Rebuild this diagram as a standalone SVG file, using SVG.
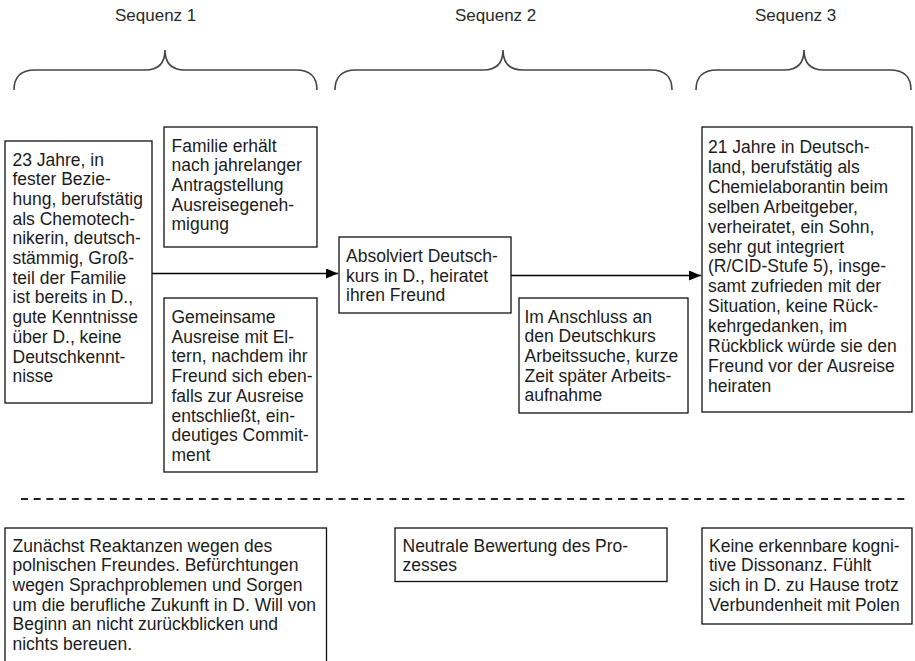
<svg xmlns="http://www.w3.org/2000/svg" width="915" height="661" viewBox="0 0 915 661">
  <style>
    .box { fill: #ffffff; stroke: #111111; stroke-width: 1.3; }
    .txt { font-family: "Liberation Sans", Arial, sans-serif; font-size: 17.5px; fill: #1c1c1c; }
    .head { font-family: "Liberation Sans", Arial, sans-serif; font-size: 17px; fill: #2a2a2a; }
    .brace { fill: none; stroke: #444444; stroke-width: 1.6; }
    .conn { fill: none; stroke: #000000; stroke-width: 1.5; }
    .sep { fill: none; stroke: #222222; stroke-width: 2; stroke-dasharray: 7 5.7; }
  </style>
  <defs>
    <marker id="arrow" viewBox="0 0 12 10" refX="12" refY="5" markerWidth="12" markerHeight="10" markerUnits="userSpaceOnUse" orient="auto">
      <path d="M0,0 L12,5 L0,10 Z" fill="#000000"/>
    </marker>
  </defs>
  <rect width="915" height="661" fill="#ffffff"/>

  <!-- sequence headings with braces -->
  <g id="seq1">
    <text class="head" x="115" y="21">Sequenz 1</text>
    <path class="brace" d="M14,90 Q14,70 35,70 L145,70 Q165,70 165,50 Q165,70 185,70 L296,70 Q317,70 317,90"/>
  </g>
  <g id="seq2">
    <text class="head" x="455" y="21">Sequenz 2</text>
    <path class="brace" d="M335,90 Q335,70 356,70 L483,70 Q503,70 503,50 Q503,70 523,70 L651,70 Q672,70 672,90"/>
  </g>
  <g id="seq3">
    <text class="head" x="755" y="21">Sequenz 3</text>
    <path class="brace" d="M696,90 Q696,70 717,70 L784,70 Q804,70 804,50 Q804,70 824,70 L890,70 Q911,70 911,90"/>
  </g>

  <!-- connectors -->
  <g id="connectors">
    <line class="conn" x1="152" y1="273.5" x2="338" y2="273.5" marker-end="url(#arrow)"/>
    <line class="conn" x1="511" y1="275.5" x2="701" y2="275.5" marker-end="url(#arrow)"/>
    <line class="sep" x1="21" y1="499" x2="906" y2="499"/>
  </g>

  <!-- sequence 1 -->
  <g id="start">
    <rect class="box" x="5" y="141" width="147" height="262"/>
    <text class="txt">
      <tspan x="12.5" y="165.5">23 Jahre, in</tspan>
      <tspan x="12.5" y="185.2">fester Bezie-</tspan>
      <tspan x="12.5" y="204.9">hung, berufstätig</tspan>
      <tspan x="12.5" y="224.6">als Chemotech-</tspan>
      <tspan x="12.5" y="244.3">nikerin, deutsch-</tspan>
      <tspan x="12.5" y="264">stämmig, Groß-</tspan>
      <tspan x="12.5" y="283.7">teil der Familie</tspan>
      <tspan x="12.5" y="303.4">ist bereits in D.,</tspan>
      <tspan x="12.5" y="323.1">gute Kenntnisse</tspan>
      <tspan x="12.5" y="342.8">über D., keine</tspan>
      <tspan x="12.5" y="362.5">Deutschkennt-</tspan>
      <tspan x="12.5" y="382.2">nisse</tspan>
    </text>
  </g>

  <g id="permit">
    <rect class="box" x="164" y="127" width="153" height="120"/>
    <text class="txt">
      <tspan x="171.5" y="151.5">Familie erhält</tspan>
      <tspan x="171.5" y="171.2">nach jahrelanger</tspan>
      <tspan x="171.5" y="190.9">Antragstellung</tspan>
      <tspan x="171.5" y="210.6">Ausreisegeneh-</tspan>
      <tspan x="171.5" y="230.3">migung</tspan>
    </text>
  </g>

  <g id="departure">
    <rect class="box" x="164" y="298" width="153" height="174"/>
    <text class="txt">
      <tspan x="171.5" y="323">Gemeinsame</tspan>
      <tspan x="171.5" y="342.7">Ausreise mit El-</tspan>
      <tspan x="171.5" y="362.4">tern, nachdem ihr</tspan>
      <tspan x="171.5" y="382.1">Freund sich eben-</tspan>
      <tspan x="171.5" y="401.8">falls zur Ausreise</tspan>
      <tspan x="171.5" y="421.5">entschließt, ein-</tspan>
      <tspan x="171.5" y="441.2">deutiges Commit-</tspan>
      <tspan x="171.5" y="460.9">ment</tspan>
    </text>
  </g>

  <!-- sequence 2 -->
  <g id="course">
    <rect class="box" x="339" y="237" width="172" height="76"/>
    <text class="txt">
      <tspan x="346" y="262">Absolviert Deutsch-</tspan>
      <tspan x="346" y="281.7">kurs in D., heiratet</tspan>
      <tspan x="346" y="301.4">ihren Freund</tspan>
    </text>
  </g>

  <g id="work">
    <rect class="box" x="519" y="298" width="169" height="115"/>
    <text class="txt">
      <tspan x="524.5" y="322.5">Im Anschluss an</tspan>
      <tspan x="524.5" y="342.2">den Deutschkurs</tspan>
      <tspan x="524.5" y="361.9">Arbeitssuche, kurze</tspan>
      <tspan x="524.5" y="381.6">Zeit später Arbeits-</tspan>
      <tspan x="524.5" y="401.3">aufnahme</tspan>
    </text>
  </g>

  <!-- sequence 3 -->
  <g id="today">
    <rect class="box" x="702" y="127" width="210" height="285"/>
    <text class="txt">
      <tspan x="708" y="153">21 Jahre in Deutsch-</tspan>
      <tspan x="708" y="172.9">land, berufstätig als</tspan>
      <tspan x="708" y="192.8">Chemielaborantin beim</tspan>
      <tspan x="708" y="212.7">selben Arbeitgeber,</tspan>
      <tspan x="708" y="232.6">verheiratet, ein Sohn,</tspan>
      <tspan x="708" y="252.5">sehr gut integriert</tspan>
      <tspan x="708" y="272.4">(R/CID-Stufe 5), insge-</tspan>
      <tspan x="708" y="292.3">samt zufrieden mit der</tspan>
      <tspan x="708" y="312.2">Situation, keine Rück-</tspan>
      <tspan x="708" y="332.1">kehrgedanken, im</tspan>
      <tspan x="708" y="352">Rückblick würde sie den</tspan>
      <tspan x="708" y="371.9">Freund vor der Ausreise</tspan>
      <tspan x="708" y="391.8">heiraten</tspan>
    </text>
  </g>

  <!-- evaluations below the separator -->
  <g id="eval1">
    <rect class="box" x="5" y="528" width="321.5" height="140"/>
    <text class="txt">
      <tspan x="12.5" y="551.5">Zunächst Reaktanzen wegen des</tspan>
      <tspan x="12.5" y="571.2">polnischen Freundes. Befürchtungen</tspan>
      <tspan x="12.5" y="590.9">wegen Sprachproblemen und Sorgen</tspan>
      <tspan x="12.5" y="610.6">um die berufliche Zukunft in D. Will von</tspan>
      <tspan x="12.5" y="630.3">Beginn an nicht zurückblicken und</tspan>
      <tspan x="12.5" y="650">nichts bereuen.</tspan>
    </text>
  </g>

  <g id="eval2">
    <rect class="box" x="395" y="528" width="272" height="53.5"/>
    <text class="txt">
      <tspan x="402.5" y="551.5">Neutrale Bewertung des Pro-</tspan>
      <tspan x="402.5" y="571.2">zesses</tspan>
    </text>
  </g>

  <g id="eval3">
    <rect class="box" x="702" y="528" width="210" height="96"/>
    <text class="txt">
      <tspan x="709" y="551.5">Keine erkennbare kogni-</tspan>
      <tspan x="709" y="571.2">tive Dissonanz. Fühlt</tspan>
      <tspan x="709" y="590.9">sich in D. zu Hause trotz</tspan>
      <tspan x="709" y="610.6">Verbundenheit mit Polen</tspan>
    </text>
  </g>
</svg>
